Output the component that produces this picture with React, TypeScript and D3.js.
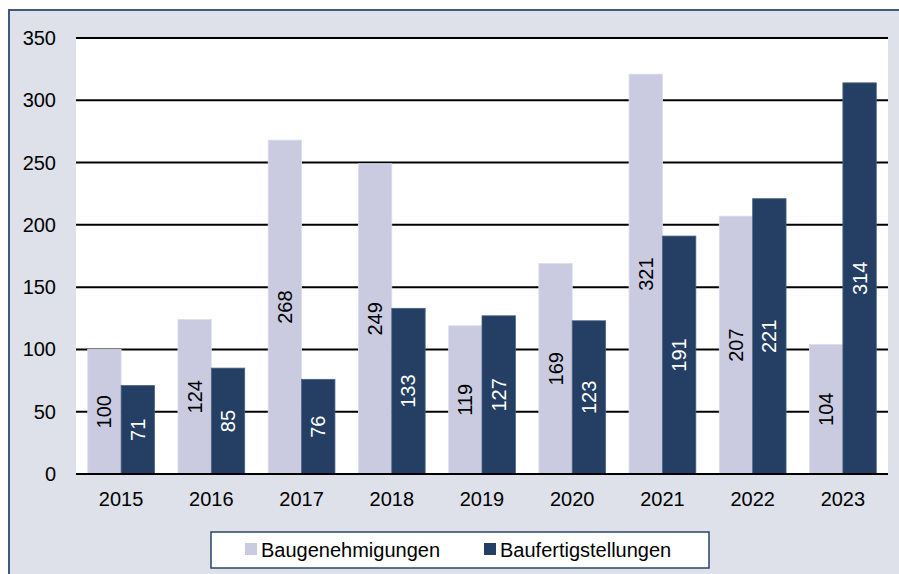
import React from 'react';
import * as d3 from 'd3';

const years = ['2015', '2016', '2017', '2018', '2019', '2020', '2021', '2022', '2023'];
const genehmigungen = [100, 124, 268, 249, 119, 169, 321, 207, 104];
const fertigstellungen = [71, 85, 76, 133, 127, 123, 191, 221, 314];
const yTicks = [0, 50, 100, 150, 200, 250, 300, 350];
const seriesNames = ['Baugenehmigungen', 'Baufertigstellungen'];

const W = 899;
const H = 574;
const plot = { left: 76, top: 38, right: 888, bottom: 474 };
const colors = ['#cacbe0', '#243f63'];
const font = 'Liberation Sans, Arial, sans-serif';
const fs = 20;

export default function App() {
  const x = d3.scaleBand<string>()
    .domain(years)
    .range([plot.left, plot.right])
    .paddingInner(0.26)
    .paddingOuter(0.13);

  const sub = d3.scaleBand<number>()
    .domain([0, 1])
    .range([0, x.bandwidth()]);

  const y = d3.scaleLinear()
    .domain([0, 350])
    .range([plot.bottom, plot.top]);

  const series = [genehmigungen, fertigstellungen];

  return (
    <svg width={W} height={H} style={{ position: 'absolute', left: 0, top: 0 }} fontFamily={font}>
      {/* Rahmen */}
      <rect x={9} y={10} width={W + 10} height={H + 10} fill="#dee1e9" stroke="#3f5a7c" strokeWidth={2} />
      <rect x={plot.left} y={plot.top} width={plot.right - plot.left} height={plot.bottom - plot.top} fill="#ffffff" />

      {/* Gitternetz */}
      {yTicks.map(t => (
        <line key={t} x1={plot.left} x2={plot.right} y1={y(t)} y2={y(t)} stroke="#000" strokeWidth={2} />
      ))}
      {yTicks.map(t => (
        <text key={'l' + t} x={56} y={y(t)} textAnchor="end" dominantBaseline="central" fontSize={fs} fill="#000">
          {t}
        </text>
      ))}

      {/* Balken */}
      {years.map((yr, i) => (
        <g key={yr}>
          {series.map((s, k) => {
            const bx = (x(yr) ?? 0) + (sub(k) ?? 0);
            const bw = sub.bandwidth();
            const top = y(s[i]);
            const cx = bx + bw / 2;
            const cy = (top + y(0)) / 2;
            return (
              <g key={k}>
                <rect x={bx} y={top} width={bw} height={y(0) - top} fill={colors[k]}
                  stroke={k === 0 ? '#dcdde9' : '#4a6283'} strokeWidth={0.8} />
                <text transform={`translate(${cx},${cy}) rotate(-90)`} textAnchor="middle"
                  dominantBaseline="central" fontSize={fs} fill={k === 0 ? '#000' : '#fff'}>
                  {s[i]}
                </text>
              </g>
            );
          })}
          <text x={(x(yr) ?? 0) + x.bandwidth() / 2} y={506} textAnchor="middle" fontSize={fs} fill="#000">
            {yr}
          </text>
        </g>
      ))}
      <line x1={plot.left} x2={plot.right} y1={y(0)} y2={y(0)} stroke="#000" strokeWidth={2} />

      {/* Legende */}
      <rect x={211} y={532} width={498} height={36} fill="#fff" stroke="#2a4566" strokeWidth={1.5} />
      {seriesNames.map((n, k) => {
        const lx = k === 0 ? 245 : 484;
        return (
          <g key={n}>
            <rect x={lx} y={543} width={12} height={12} fill={colors[k]} />
            <text x={lx + 16} y={557} fontSize={fs} fill="#000">{n}</text>
          </g>
        );
      })}
    </svg>
  );
}
